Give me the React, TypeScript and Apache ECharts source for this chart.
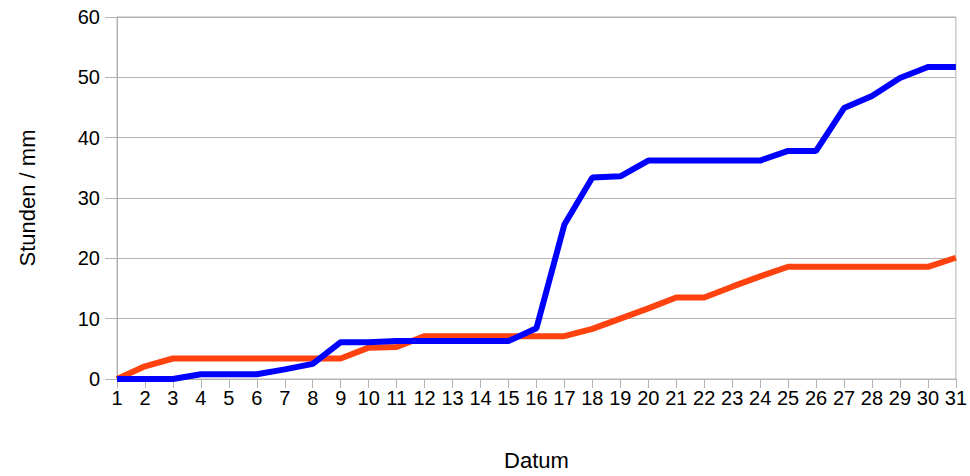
import React, { useEffect, useRef } from "react";
import * as echarts from "echarts";

const days = Array.from({ length: 31 }, (_, i) => String(i + 1));
const seriesOrange = [0, 2.1, 3.4, 3.4, 3.4, 3.4, 3.4, 3.4, 3.4, 5.2, 5.3, 7.1, 7.1, 7.1, 7.1, 7.1, 7.1, 8.3, 10, 11.7, 13.5, 13.5, 15.3, 17, 18.6, 18.6, 18.6, 18.6, 18.6, 18.6, 20.1];
const seriesBlue = [0, 0, 0, 0.8, 0.8, 0.8, 1.6, 2.5, 6.1, 6.1, 6.3, 6.3, 6.3, 6.3, 6.3, 8.4, 25.6, 33.4, 33.6, 36.2, 36.2, 36.2, 36.2, 36.2, 37.8, 37.8, 44.9, 46.9, 49.9, 51.7, 51.7];

export default function App() {
  const ref = useRef<HTMLDivElement>(null);
  useEffect(() => {
    if (!ref.current) return;
    const chart = echarts.init(ref.current, undefined, { renderer: "svg" });
    const font = "Liberation Sans, Arial, sans-serif";
    chart.setOption({
      animation: false,
      backgroundColor: "#ffffff",
      grid: {
        left: 117,
        right: 13,
        top: 17,
        bottom: 96,
        show: true,
        borderColor: "#b3b3b3",
        borderWidth: 1,
      },
      xAxis: {
        type: "category",
        data: days,
        boundaryGap: false,
        name: "Datum",
        nameLocation: "middle",
        nameGap: 70,
        nameTextStyle: { fontFamily: font, fontSize: 22, color: "#000" },
        axisLine: { lineStyle: { color: "#b3b3b3", width: 1 } },
        axisTick: { show: true, length: 9, lineStyle: { color: "#b3b3b3", width: 1 }, alignWithLabel: true },
        axisLabel: { interval: 0, margin: 9, fontFamily: font, fontSize: 20, color: "#000" },
        splitLine: { show: false },
      },
      yAxis: {
        type: "value",
        min: 0,
        max: 60,
        interval: 10,
        name: "Stunden / mm",
        nameLocation: "middle",
        nameGap: 79,
        nameTextStyle: { fontFamily: font, fontSize: 22, color: "#000" },
        axisLine: { show: true, lineStyle: { color: "#b3b3b3", width: 1 } },
        axisTick: { show: true, length: 12, lineStyle: { color: "#b3b3b3" } },
        axisLabel: { margin: 17, fontFamily: font, fontSize: 20, color: "#000" },
        splitLine: { show: true, lineStyle: { color: "#b3b3b3", width: 1 } },
      },
      series: [
        {
          type: "line",
          data: seriesOrange,
          symbol: "none",
          lineStyle: { color: "#ff420e", width: 6 },
        },
        {
          type: "line",
          data: seriesBlue,
          symbol: "none",
          lineStyle: { color: "#0000ff", width: 6 },
        },
      ],
    });
    return () => chart.dispose();
  }, []);
  return <div ref={ref} style={{ width: 970, height: 476, position: "absolute", left: 0, top: 0 }} />;
}
